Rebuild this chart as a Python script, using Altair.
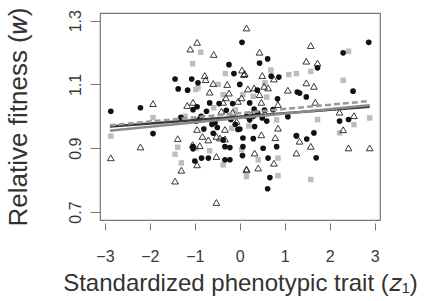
import altair as alt
import pandas as pd

# ---- data ----
circ_x = [-2.87, -2.21, -1.93, -1.44, -1.07, -1.37, -1.16, -1.31, -1.04, -1.0, -1.04, 0.05, -0.24, -0.13,
          -0.93, 0.0, -0.67, -0.46, -0.16, -0.74, -0.30, -0.59, -0.04, -0.37, 0.07, -1.04, -0.33, -0.22,
          0.07, -0.85, -0.70, -0.33, -0.22, 0.06, 0.44, 0.62, 0.70, 0.87, 1.28, 0.39, 0.22, 0.84, 0.32,
          0.74, 1.07, 0.22, 0.33, 1.26, 0.82, 0.52, 0.63, 0.67, 0.62, 2.87, 2.30, 1.73, 2.52, 1.33, 1.48,
          2.22, 2.42, 1.26, 1.49, 1.65, 1.70, -0.9, -0.55, -0.1, 0.15, 0.5, -0.8, 0.3, -0.95,
          -0.97, -0.86, -0.62, -0.50, 0.30, 0.40, 0.55, 0.60, -0.20, 0.00]
circ_y = [1.016, 1.027, 0.946, 1.117, 1.117, 1.086, 1.082, 0.997, 1.021, 0.86, 0.898, 1.232, 1.162, 1.134,
          1.105, 1.1, 1.042, 1.04, 1.04, 1.016, 1.019, 0.947, 0.959, 0.926, 0.932, 0.905, 0.905, 0.902,
          0.905, 0.869, 0.869, 0.864, 0.864, 0.877, 1.167, 1.18, 1.126, 1.123, 1.076, 1.082, 1.042, 1.055, 1.023,
          1.021, 0.999, 0.989, 0.968, 0.94, 0.905, 0.9, 0.869, 0.808, 0.773, 1.232, 1.199, 1.152, 1.079, 1.073, 1.061,
          0.985, 0.99, 0.938, 0.929, 0.948, 0.87, 0.99, 0.98, 0.975, 1.0, 0.995, 0.96, 0.93, 1.03,
          0.985, 1.0, 0.975, 0.965, 1.0, 1.01, 1.02, 0.985, 0.99, 0.96]

tri_x = [-1.93, -2.21, -2.87, -1.10, -1.17, -1.38, -1.30, -1.44, -1.05, -0.52, -0.95, -0.58, 0.15, 0.05,
         0.09, -0.78, -0.76, -0.59, -0.28, -0.67, -0.24, -0.31, 0.04, -1.04, -0.37, -0.04, -0.41, -0.16,
         -0.95, -0.83, -0.70, -0.33, -0.52, -0.44, -0.33, -0.07, -0.89, -0.52, 0.15, -0.95, 0.44, 0.50,
         0.76, 0.11, 1.07, 0.18, 0.32, 0.54, 0.63, 0.48, 0.85, 0.26, 0.56, 0.44, 0.85, 0.48, 1.26, 0.79,
         0.33, 0.76, 0.41, 0.15, 1.58, 1.48, 1.73, 1.48, 1.65, 1.68, 2.22, 2.54, 2.30, 1.33, 1.58, 2.42, 2.89]
tri_y = [1.04, 0.904, 0.87, 1.211, 1.034, 0.93, 0.831, 0.797, 0.911, 0.73, 1.232, 1.194, 1.277, 1.145,
         1.131, 1.128, 1.115, 1.103, 1.1, 1.076, 1.073, 1.058, 1.058, 1.044, 1.044, 1.047, 1.016, 1.013,
         0.959, 0.937, 0.926, 0.959, 0.937, 0.932, 0.929, 0.984, 0.908, 0.874, 0.835, 0.848, 1.201, 1.128,
         1.117, 1.134, 1.082, 1.086, 1.089, 1.094, 1.089, 1.044, 1.037, 1.006, 1.011, 1.068, 0.963, 0.942, 0.885, 0.933,
         0.885, 0.853, 0.838, 0.832, 1.222, 1.173, 1.167, 1.105, 1.094, 1.044, 1.013, 1.002, 0.958, 0.922, 0.906, 0.901, 0.901]

sq_x = [-1.93, -2.87, -1.05, -1.38, -1.44, -1.30, -0.87, -0.32, -0.98, -0.48, -0.37, 0.07, -0.58, -0.18,
        -0.67, -0.37, 0.04, -0.98, 0.69, 1.26, 1.09, 0.56, 0.30, 0.82, 0.85, 0.15, 0.85, 0.41, 2.42, 1.58,
        2.30, 1.73, 2.54, 2.22, 2.89, 1.58, -1.22, -0.6, 0.2, -0.1, 0.6, -0.93]
sq_y = [0.996, 0.938, 1.165, 0.903, 0.881, 0.854, 1.201, 1.134, 1.084, 1.1, 1.068, 1.068, 1.027, 0.963,
        0.892, 0.848, 0.895, 0.9, 1.145, 1.134, 1.131, 1.105, 1.063, 0.989, 0.869, 0.811, 0.814, 0.864, 1.204, 1.141,
        1.113, 0.99, 0.974, 0.948, 0.995, 0.802, 1.0, 0.99, 0.97, 1.02, 1.06, 1.089]

# regression lines (end points)
line_names = ["dark", "dark", "gray", "gray", "dashed", "dashed"]
line_x = [-2.89, 2.89, -2.89, 2.89, -2.89, 2.89]
line_y = [0.968, 1.030, 0.955, 1.035, 0.972, 1.048]

x_ticks = [-3, -2, -1, 0, 1, 2, 3]
y_ticks = [0.7, 0.8, 0.9, 1.0, 1.1, 1.2, 1.3]

circ = pd.DataFrame({"x": circ_x, "y": circ_y})
tri = pd.DataFrame({"x": tri_x, "y": tri_y})
sq = pd.DataFrame({"x": sq_x, "y": sq_y})
lines = pd.DataFrame({"x": line_x, "y": line_y, "g": line_names})

FONT = "Liberation Sans"
xs = alt.Scale(domain=[-3.11, 3.12], nice=False, zero=False)
ys = alt.Scale(domain=[0.675, 1.324], nice=False, zero=False)

label_expr = "datum.value == 0.7 ? '0.7' : datum.value == 0.9 ? '0.9' : datum.value == 1.1 ? '1.1' : datum.value == 1.3 ? '1.3' : ''"

xax = alt.Axis(values=x_ticks, domain=False, grid=False, tickColor="#777", tickSize=7, offset=3,
               labelFont=FONT, labelFontSize=16, labelColor="#3a3a3a", labelPadding=18,
               title="Standardized phenotypic trait (𝑧₁)", titleFont=FONT, titleFontSize=24,
               titleFontWeight="normal", titleColor="#333", titlePadding=7)
yax = alt.Axis(values=y_ticks, domain=False, grid=False, tickColor="#777", tickSize=10,
               labelExpr=label_expr, labelAngle=-90, labelAlign="center", labelBaseline="bottom",
               labelFont=FONT, labelFontSize=16, labelColor="#3a3a3a", labelPadding=7,
               title="Relative fitness (𝑤)", titleFont=FONT, titleFontSize=26,
               titleFontWeight="normal", titleColor="#333", titlePadding=36)

sq_layer = alt.Chart(sq).mark_point(shape="square", filled=True, color="#bdbdbd", size=30, opacity=1).encode(
    x=alt.X("x:Q", scale=xs, axis=xax), y=alt.Y("y:Q", scale=ys, axis=yax))
circ_layer = alt.Chart(circ).mark_point(shape="circle", filled=True, color="#111111", size=32, opacity=1).encode(
    x=alt.X("x:Q", scale=xs), y=alt.Y("y:Q", scale=ys))
tri_layer = alt.Chart(tri).mark_point(shape="triangle-up", filled=False, color="#222222", size=45,
                                      strokeWidth=0.9, opacity=1).encode(
    x=alt.X("x:Q", scale=xs), y=alt.Y("y:Q", scale=ys))

line_layer = alt.Chart(lines).mark_line(strokeWidth=2.5).encode(
    x=alt.X("x:Q", scale=xs), y=alt.Y("y:Q", scale=ys),
    detail="g:N",
    color=alt.Color("g:N", scale=alt.Scale(domain=["gray", "dashed", "dark"],
                                           range=["#8a8a8a", "#9a9a9a", "#3a3a3a"]), legend=None),
    strokeDash=alt.StrokeDash("g:N", scale=alt.Scale(domain=["gray", "dashed", "dark"],
                                                     range=[[1, 0], [6, 3], [1, 0]]), legend=None),
    order=alt.Order("x:Q"))

chart = alt.layer(sq_layer, tri_layer, circ_layer, line_layer).properties(
    width=280, height=207,
    autosize=alt.AutoSizeParams(type="none"),
    padding={"left": 100, "top": 13, "right": 54, "bottom": 81},
    background="white",
).configure_view(stroke="#777", strokeWidth=1.2)

chart.save("out.html", embed_options={"renderer": "svg", "actions": False})
